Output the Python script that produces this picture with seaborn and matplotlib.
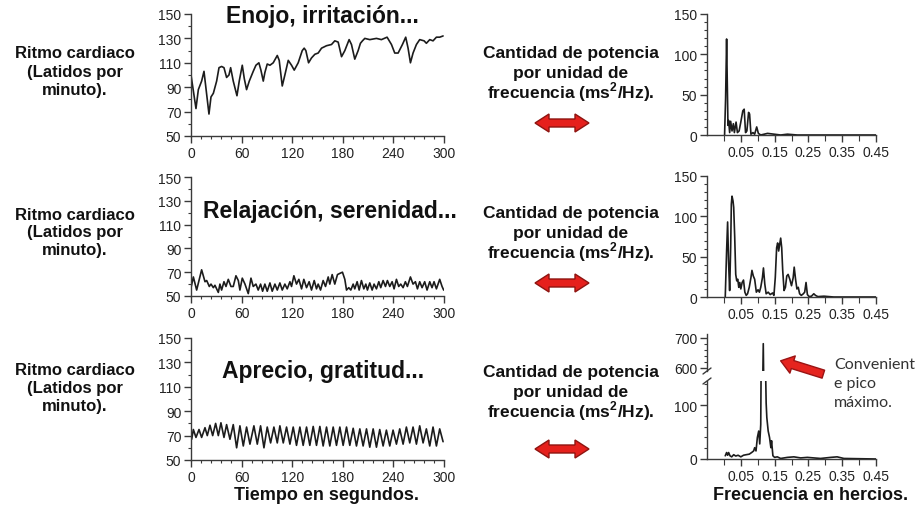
import numpy as np
import matplotlib
matplotlib.use("Agg")
import matplotlib.pyplot as plt
import matplotlib.patches as mpatches
from matplotlib.ticker import MultipleLocator
import seaborn as sns

# ---- frecuencia cardiaca (latidos por minuto) vs tiempo (s) ----
t_enojo = [0, 5.9, 8.7, 12.6, 15.4, 21.3, 23.7, 26.5, 30.4, 33.2, 36.3, 39.1, 42.2, 45.0, 47.0,
           50.1, 54.5, 57.2, 60.8, 63.2, 65.9, 69.1, 73.8, 77.0, 80.5, 82.9, 85.7, 87.6, 90.4, 93.6,
           97.5, 102.3, 104.6, 108.2, 111.3, 115.3, 119.2, 122.4, 127.1, 131.9, 134.2, 136.2, 139.4,
           142.9, 146.9, 150.8, 154.8, 160.7, 166.6, 170.5, 174.5, 178.5, 182.4, 187.5, 190.3, 194.2,
           198.2, 200.9, 203.3, 206.1, 212.0, 219.9, 225.8, 232.5, 237.7, 241.6, 245.6, 250.7, 254.6,
           257.4, 260.2, 263.3, 267.3, 271.2, 276.4, 279.1, 283.1, 287.0, 291.0, 294.9, 298.9]
hr_enojo = [100, 72.5, 88, 95, 103, 68, 82, 85, 95, 106, 107, 106, 98, 100, 106,
            95, 83, 95, 108, 97, 88, 95, 103, 108, 110, 104, 95, 102, 109, 108,
            110, 116, 112, 91, 100, 112, 108, 104, 110, 120, 122, 120, 110,
            114, 117, 118, 122, 124, 125, 128, 127, 115, 120, 129, 125, 113,
            120, 126, 128, 130, 129, 130, 129, 131, 125, 118, 118, 125, 131,
            122, 110, 118, 125, 129, 128, 126, 129, 128, 131, 131, 132]

t_relax = [0, 2.8, 6.7, 12.6, 16.6, 18.6, 21.7, 23.7, 26.5, 28.4, 32.4, 34.3, 36.3, 39.1, 41.5,
           44.2, 47.4, 50.1, 53.3, 56.1, 58.0, 60.8, 64.0, 67.9, 71.1, 73.8, 77.0, 79.7, 82.5, 84.9,
           87.6, 90.4, 93.6, 96.3, 99.5, 102.3, 105.4, 108.2, 111.3, 114.1, 117.3, 119.2, 122.0,
           125.1, 127.9, 131.1, 133.8, 137.0, 140.1, 142.9, 146.1, 148.8, 150.8, 153.6, 156.7,
           159.5, 162.7, 164.6, 167.4, 170.5, 173.7, 176.5, 179.6, 182.4, 184.4, 187.1, 189.5,
           192.3, 194.2, 197.0, 199.4, 202.1, 204.9, 207.3, 209.2, 212.0, 214.8, 217.1, 219.9,
           222.7, 225.0, 227.8, 230.6, 232.9, 235.7, 238.5, 240.8, 243.6, 246.3, 248.7, 251.5,
           254.2, 256.6, 260.2, 263.3, 266.1, 268.5, 271.2, 274.0, 277.1, 279.9, 283.1, 285.8,
           288.2, 291.0, 294.9, 297.7, 299.6]
hr_relax = [57, 66, 55, 72, 62, 63, 58, 60, 57, 59, 53, 60, 55, 62, 58,
            64, 58, 58, 67, 63, 55, 65, 60, 52, 65, 58, 60, 55, 60, 54,
            60, 54, 61, 54, 60, 55, 61, 55, 60, 56, 62, 58, 67,
            60, 64, 56, 64, 57, 62, 55, 63, 56, 60, 55, 63,
            58, 66, 60, 68, 60, 68, 69, 70, 64, 55, 57, 55,
            60, 56, 62, 55, 63, 56, 60, 55, 61, 55, 60, 56,
            62, 57, 63, 58, 63, 58, 62, 56, 64, 58, 60, 57,
            62, 58, 66, 60, 62, 56, 62, 57, 62, 55, 62, 57,
            62, 56, 64, 58, 55]

t_aprecio = [0.8, 2.8, 5.9, 9.5, 12.6, 16.6, 19.3, 22.5, 25.7, 29.2, 32.4, 35.5, 39.1, 42.2, 46.2,
             50.1, 54.1, 58.0, 62.0, 65.9, 69.9, 74.6, 78.6, 82.5, 86.5, 90.4, 94.4, 98.3, 102.3,
             105.4, 109.4, 113.3, 117.3, 121.2, 125.1, 129.1, 133.0, 137.0, 140.9, 144.9, 148.8,
             152.8, 156.7, 160.7, 164.6, 168.6, 172.5, 176.5, 180.4, 184.4, 188.3, 192.3, 196.2,
             200.2, 204.1, 208.1, 212.0, 216.0, 219.9, 223.8, 227.8, 231.7, 235.7, 239.6, 243.6,
             247.5, 251.5, 255.4, 259.4, 263.3, 267.3, 271.2, 275.2, 279.1, 283.1, 287.0, 291.0,
             294.9, 298.9]
hr_aprecio = [67, 75, 68.5, 75, 68.5, 76.5, 70, 78.5, 70, 80, 70, 80.5, 68.5, 79, 67,
              79, 60, 78, 61.5, 77, 63, 78, 63, 78, 60, 77, 64, 77, 64,
              78, 64, 77, 63, 77, 62, 77, 62, 77, 62, 77.5, 62,
              77.5, 61.5, 77, 61.5, 77, 62, 77, 62, 77, 62, 76, 61.5,
              75.5, 61.5, 75.5, 60.5, 75.5, 60.5, 75, 61.5, 74.5, 61.5, 74.5, 63,
              75.5, 63, 77, 64, 77, 63, 78, 64, 75.5, 61.5, 77, 61.5,
              75.5, 65]

# ---- espectros de potencia (ms^2/Hz) vs frecuencia (Hz) ----
f_enojo = [0.002, 0.005, 0.008, 0.010, 0.012, 0.014, 0.017, 0.020, 0.024, 0.028, 0.031, 0.036,
           0.040, 0.045, 0.050, 0.056, 0.060, 0.064, 0.068, 0.073, 0.076, 0.080, 0.086, 0.091,
           0.097, 0.102, 0.109, 0.129, 0.168, 0.188, 0.217, 0.451]
p_enojo = [0, 45, 119, 65, 12, 18, 3, 17, 5, 14, 3, 16,
           3, 5, 16, 30, 32, 3, 5, 28, 26, 1, 3, 1,
           10, 2, 0, 2, 0, 1, 0, 0]

f_relax = [0.004, 0.008, 0.011, 0.014, 0.017, 0.020, 0.022, 0.024, 0.027, 0.029, 0.032, 0.035,
           0.038, 0.041, 0.044, 0.047, 0.050, 0.054, 0.058, 0.062, 0.066, 0.070, 0.075, 0.080,
           0.083, 0.087, 0.091, 0.096, 0.101, 0.105, 0.109, 0.114, 0.117, 0.121, 0.125, 0.131,
           0.137, 0.144, 0.148, 0.152, 0.156, 0.159, 0.162, 0.165, 0.168, 0.171, 0.174, 0.178,
           0.182, 0.186, 0.190, 0.195, 0.200, 0.205, 0.208, 0.212, 0.216, 0.220, 0.224, 0.229,
           0.235, 0.239, 0.243, 0.247, 0.252, 0.259, 0.266, 0.271, 0.278, 0.296, 0.325, 0.451]
p_relax = [0, 57, 93, 41, 8, 61, 115, 125, 119, 111, 74, 28,
           20, 22, 12, 18, 10, 18, 21, 6, 2, 4, 12, 24,
           33, 26, 22, 6, 9, 6, 12, 24, 36, 16, 4, 6,
           3, 5, 2, 24, 61, 67, 57, 65, 73, 61, 33, 8,
           12, 26, 28, 22, 14, 24, 37, 22, 10, 12, 4, 2,
           4, 6, 18, 3, 0.5, 1, 4, 2, 0.5, 1, 0, 0]

f_aprecio = [0.004, 0.008, 0.011, 0.014, 0.018, 0.023, 0.029, 0.035, 0.042, 0.050, 0.058, 0.066,
             0.075, 0.082, 0.088, 0.091, 0.095, 0.099, 0.103, 0.106, 0.109, 0.111, 0.1165, 0.121,
             0.125, 0.127, 0.131, 0.135, 0.139, 0.141, 0.145, 0.150, 0.158, 0.168, 0.188, 0.207,
             0.227, 0.247, 0.266, 0.286, 0.316, 0.335, 0.355, 0.451]
p_aprecio = [6, 12, 7, 12, 6, 4, 8, 5.5, 7, 4, 7, 8,
             9, 12, 15, 21, 15, 40, 52, 28, 64, 250, 680, 250,
             104, 77, 52, 40, 21, 34, 6, 3, 4, 1, 3, 4,
             2, 3, 2, 1, 3, 4, 1, 0]

hr_ticks = [50, 70, 90, 110, 130, 150]
t_ticks = [0, 60, 120, 180, 240, 300]
f_ticks = [0.05, 0.15, 0.25, 0.35, 0.45]
f_minor = [0.0, 0.1, 0.2, 0.3, 0.4]
p_ticks = [0, 50, 100, 150]

titulos = ["Enojo, irritación...", "Relajación, serenidad...", "Aprecio, gratitud..."]
lbl_izq = "Ritmo cardiaco\n(Latidos por\nminuto)."
lbl_med = ["Cantidad de potencia", "por unidad de", "frecuencia (ms$^{\\mathbf{2}}$/Hz)."]

sns.set_style("ticks")
plt.rcParams['font.family'] = ['Liberation Sans', 'DejaVu Sans']
plt.rcParams['mathtext.fontset'] = 'custom'
plt.rcParams['mathtext.rm'] = 'Liberation Sans'
plt.rcParams['mathtext.bf'] = 'Liberation Sans:bold'

W, H = 919, 506
fig = plt.figure(figsize=(W / 100, H / 100), dpi=100)
fig.patch.set_facecolor('white')

INK = '#1c1c1c'
AXC = '#3a3a3a'


def fx(x):
    return x / W


def fy(y):
    return 1 - y / H


def px_axes(x0, y0, x1, y1):
    # caja en pixeles (origen arriba a la izquierda)
    return fig.add_axes([x0 / W, 1 - y1 / H, (x1 - x0) / W, (y1 - y0) / H])


def estilo(ax):
    sns.despine(ax=ax)
    for s in ['left', 'bottom']:
        ax.spines[s].set_color(AXC)
        ax.spines[s].set_linewidth(1.0)
    ax.tick_params(which='major', direction='out', length=5, width=1, color=AXC,
                   labelsize=10, labelcolor='#222222', pad=2)
    ax.tick_params(which='minor', direction='out', length=2.5, width=0.8, color=AXC)
    ax.set_xlabel('')
    ax.set_ylabel('')
    ax.patch.set_alpha(0)


def doble_flecha(cy, x0=535, x1=589, hl=14, hh=9, bh=4):
    pts = [(x0, cy), (x0 + hl, cy - hh), (x0 + hl, cy - bh), (x1 - hl, cy - bh),
           (x1 - hl, cy - hh), (x1, cy), (x1 - hl, cy + hh), (x1 - hl, cy + bh),
           (x0 + hl, cy + bh), (x0 + hl, cy + hh)]
    poly = mpatches.Polygon([(fx(a), fy(b)) for a, b in pts], closed=True,
                            transform=fig.transFigure, facecolor='#e5201c',
                            edgecolor='#8e1410', linewidth=1.0)
    fig.patches.append(poly)


# ---- columna izquierda: ritmo cardiaco ----
filas_izq = [(15, 137), (178, 297), (339, 461)]
series_izq = [(t_enojo, hr_enojo), (t_relax, hr_relax), (t_aprecio, hr_aprecio)]
for (y0, y1), (t, hr) in zip(filas_izq, series_izq):
    ax = px_axes(191, y0, 444, y1)
    sns.lineplot(x=t, y=hr, ax=ax, color=INK, linewidth=1.2)
    ax.set_xlim(0, 300)
    ax.set_ylim(50, 150)
    ax.set_xticks(t_ticks)
    ax.set_yticks(hr_ticks)
    ax.xaxis.set_minor_locator(MultipleLocator(12))
    ax.yaxis.set_minor_locator(MultipleLocator(10))
    estilo(ax)

# ---- columna derecha: espectros ----
for (y0, y1), (f, p) in zip([(15, 136), (177, 298)], [(f_enojo, p_enojo), (f_relax, p_relax)]):
    ax = px_axes(707, y0, 876, y1)
    sns.lineplot(x=f, y=p, ax=ax, color=INK, linewidth=1.2)
    ax.set_xlim(-0.05, 0.45)
    ax.set_ylim(0, 150)
    ax.set_xticks(f_ticks)
    ax.set_xticklabels([f"{v:.2f}" for v in f_ticks])
    ax.set_xticks(f_minor, minor=True)
    ax.set_yticks(p_ticks)
    ax.yaxis.set_minor_locator(MultipleLocator(10))
    estilo(ax)
    ax.tick_params(axis='x', which='minor', length=4)

# espectro con eje cortado
ax_hi = px_axes(707, 335, 876, 372)
ax_lo = px_axes(707, 382, 876, 460)
for ax in (ax_hi, ax_lo):
    sns.lineplot(x=f_aprecio, y=p_aprecio, ax=ax, color=INK, linewidth=1.2)
    ax.set_xlim(-0.05, 0.45)
    estilo(ax)
ax_hi.set_ylim(590, 712)
ax_hi.set_yticks([600, 700])
ax_hi.yaxis.set_minor_locator(MultipleLocator(20))
ax_hi.spines['bottom'].set_visible(False)
ax_hi.tick_params(axis='x', which='both', bottom=False, labelbottom=False)
ax_lo.set_ylim(0, 145)
ax_lo.set_yticks([0, 100])
ax_lo.yaxis.set_minor_locator(MultipleLocator(20))
ax_lo.set_xticks(f_ticks)
ax_lo.set_xticklabels([f"{v:.2f}" for v in f_ticks])
ax_lo.set_xticks(f_minor, minor=True)
ax_lo.tick_params(axis='x', which='minor', length=4)

# marcas de corte
for yb in (372, 382):
    fig.lines.append(plt.Line2D([fx(703), fx(711)], [fy(yb + 3), fy(yb - 3)],
                                transform=fig.transFigure, color=AXC, linewidth=1.0))

# ---- textos ----
for cy in (72, 233, 389):
    fig.text(fx(75), fy(cy), lbl_izq, ha='center', va='center', fontsize=12,
             fontweight='bold', linespacing=1.25, color='#111111')
for base in (58, 218, 377):
    for i, linea in enumerate(lbl_med):
        fig.text(fx(571), fy(base + 20 * i), linea, ha='center', va='baseline',
                 fontsize=12.5, fontweight='bold', color='#111111')
for cy in (124, 284, 450):
    doble_flecha(cy)

for (x, yb), titulo in zip([(322, 23), (330, 218), (323, 378)], titulos):
    fig.text(fx(x), fy(yb), titulo, ha='center', va='baseline', fontsize=16.5,
             fontweight='bold', color='#111111')

fig.text(fx(326), fy(500), "Tiempo en segundos.", ha='center', va='baseline',
         fontsize=13, fontweight='bold', color='#111111')
fig.text(fx(811), fy(500), "Frecuencia en hercios.", ha='center', va='baseline',
         fontsize=13, fontweight='bold', color='#111111')

flecha = mpatches.FancyArrowPatch((fx(826), fy(376)), (fx(778), fy(361)),
                                  transform=fig.transFigure,
                                  arrowstyle='simple,head_length=9,head_width=13,tail_width=6',
                                  mutation_scale=1, facecolor='#e5241f', edgecolor='#9a1414',
                                  linewidth=1.0)
fig.patches.append(flecha)
fig.text(fx(834), fy(358), "Convenient\ne pico\nmáximo.", ha='left', va='top',
         fontsize=11.5, family=['Lato', 'DejaVu Sans'], linespacing=1.45, color='#333333')

fig.savefig('out.png', dpi=100)
